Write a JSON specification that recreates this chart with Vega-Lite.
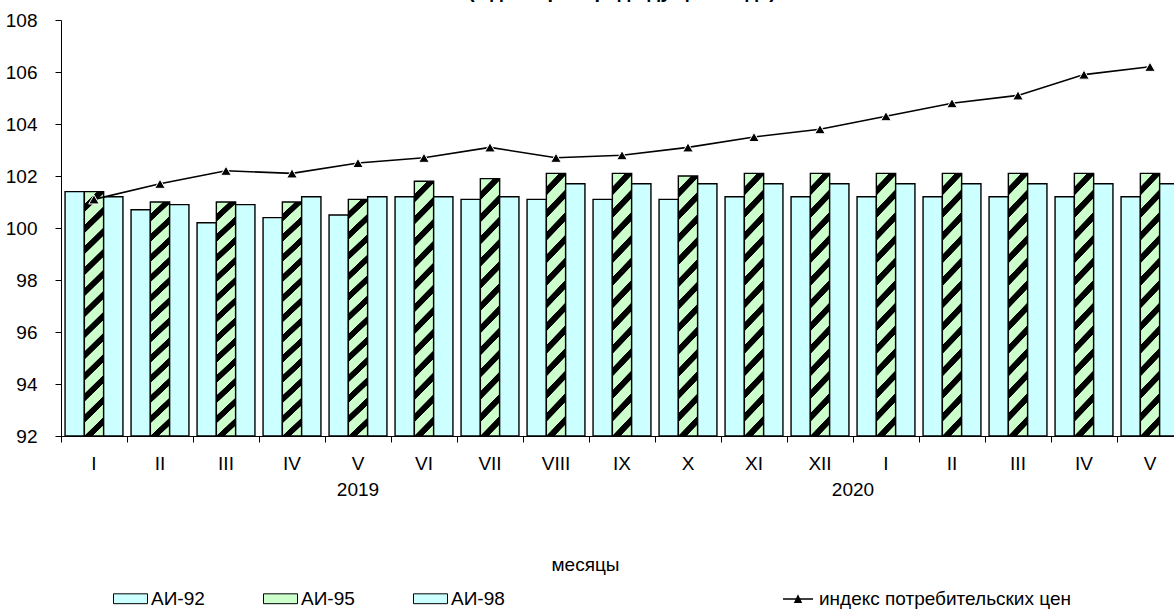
{
  "$schema": "https://vega.github.io/schema/vega-lite/v6.json",
  "autosize": {"type": "none"},
  "padding": {"left": 61, "top": 20, "right": -9, "bottom": 176},
  "width": 1122,
  "height": 416,
  "background": "white",
  "config": {
    "view": {"stroke": null},
    "font": "Liberation Sans",
    "axis": {"labelFont": "Liberation Sans", "titleFont": "Liberation Sans", "labelColor": "black", "titleColor": "black", "domainColor": "black", "tickColor": "black", "grid": false},
    "legend": {"labelFont": "Liberation Sans", "labelColor": "black", "labelFontSize": 19, "labelLimit": 0}
  },
  "title": {"text": "(к декабрю предыдущего года)", "font": "Liberation Sans", "fontSize": 20, "fontWeight": "bold", "color": "black", "offset": 9, "anchor": "middle"},
  "datasets": {
    "prices": [
      {"m": "I-2019", "fuel": "АИ-92", "v": 101.4}, {"m": "I-2019", "fuel": "АИ-95", "v": 101.4}, {"m": "I-2019", "fuel": "АИ-98", "v": 101.2},
      {"m": "II-2019", "fuel": "АИ-92", "v": 100.7}, {"m": "II-2019", "fuel": "АИ-95", "v": 101.0}, {"m": "II-2019", "fuel": "АИ-98", "v": 100.9},
      {"m": "III-2019", "fuel": "АИ-92", "v": 100.2}, {"m": "III-2019", "fuel": "АИ-95", "v": 101.0}, {"m": "III-2019", "fuel": "АИ-98", "v": 100.9},
      {"m": "IV-2019", "fuel": "АИ-92", "v": 100.4}, {"m": "IV-2019", "fuel": "АИ-95", "v": 101.0}, {"m": "IV-2019", "fuel": "АИ-98", "v": 101.2},
      {"m": "V-2019", "fuel": "АИ-92", "v": 100.5}, {"m": "V-2019", "fuel": "АИ-95", "v": 101.1}, {"m": "V-2019", "fuel": "АИ-98", "v": 101.2},
      {"m": "VI-2019", "fuel": "АИ-92", "v": 101.2}, {"m": "VI-2019", "fuel": "АИ-95", "v": 101.8}, {"m": "VI-2019", "fuel": "АИ-98", "v": 101.2},
      {"m": "VII-2019", "fuel": "АИ-92", "v": 101.1}, {"m": "VII-2019", "fuel": "АИ-95", "v": 101.9}, {"m": "VII-2019", "fuel": "АИ-98", "v": 101.2},
      {"m": "VIII-2019", "fuel": "АИ-92", "v": 101.1}, {"m": "VIII-2019", "fuel": "АИ-95", "v": 102.1}, {"m": "VIII-2019", "fuel": "АИ-98", "v": 101.7},
      {"m": "IX-2019", "fuel": "АИ-92", "v": 101.1}, {"m": "IX-2019", "fuel": "АИ-95", "v": 102.1}, {"m": "IX-2019", "fuel": "АИ-98", "v": 101.7},
      {"m": "X-2019", "fuel": "АИ-92", "v": 101.1}, {"m": "X-2019", "fuel": "АИ-95", "v": 102.0}, {"m": "X-2019", "fuel": "АИ-98", "v": 101.7},
      {"m": "XI-2019", "fuel": "АИ-92", "v": 101.2}, {"m": "XI-2019", "fuel": "АИ-95", "v": 102.1}, {"m": "XI-2019", "fuel": "АИ-98", "v": 101.7},
      {"m": "XII-2019", "fuel": "АИ-92", "v": 101.2}, {"m": "XII-2019", "fuel": "АИ-95", "v": 102.1}, {"m": "XII-2019", "fuel": "АИ-98", "v": 101.7},
      {"m": "I-2020", "fuel": "АИ-92", "v": 101.2}, {"m": "I-2020", "fuel": "АИ-95", "v": 102.1}, {"m": "I-2020", "fuel": "АИ-98", "v": 101.7},
      {"m": "II-2020", "fuel": "АИ-92", "v": 101.2}, {"m": "II-2020", "fuel": "АИ-95", "v": 102.1}, {"m": "II-2020", "fuel": "АИ-98", "v": 101.7},
      {"m": "III-2020", "fuel": "АИ-92", "v": 101.2}, {"m": "III-2020", "fuel": "АИ-95", "v": 102.1}, {"m": "III-2020", "fuel": "АИ-98", "v": 101.7},
      {"m": "IV-2020", "fuel": "АИ-92", "v": 101.2}, {"m": "IV-2020", "fuel": "АИ-95", "v": 102.1}, {"m": "IV-2020", "fuel": "АИ-98", "v": 101.7},
      {"m": "V-2020", "fuel": "АИ-92", "v": 101.2}, {"m": "V-2020", "fuel": "АИ-95", "v": 102.1}, {"m": "V-2020", "fuel": "АИ-98", "v": 101.7}
    ],
    "cpi": [
      {"m": "I-2019", "v": 101.1}, {"m": "II-2019", "v": 101.7}, {"m": "III-2019", "v": 102.2}, {"m": "IV-2019", "v": 102.1},
      {"m": "V-2019", "v": 102.5}, {"m": "VI-2019", "v": 102.7}, {"m": "VII-2019", "v": 103.1}, {"m": "VIII-2019", "v": 102.7},
      {"m": "IX-2019", "v": 102.8}, {"m": "X-2019", "v": 103.1}, {"m": "XI-2019", "v": 103.5}, {"m": "XII-2019", "v": 103.8},
      {"m": "I-2020", "v": 104.3}, {"m": "II-2020", "v": 104.8}, {"m": "III-2020", "v": 105.1}, {"m": "IV-2020", "v": 105.9},
      {"m": "V-2020", "v": 106.2}
    ],
    "year2019": [{"m": "V-2019", "year": "2019"}],
    "year2020": [{"m": "I-2020", "year": "2020"}]
  },
  "layer": [
    {
      "data": {"name": "prices"},
      "mark": {"type": "bar", "stroke": "black", "strokeWidth": 1.4},
      "encoding": {
        "x": {
          "field": "m", "type": "nominal",
          "scale": {"domain": ["I-2019","II-2019","III-2019","IV-2019","V-2019","VI-2019","VII-2019","VIII-2019","IX-2019","X-2019","XI-2019","XII-2019","I-2020","II-2020","III-2020","IV-2020","V-2020"], "paddingInner": 0, "paddingOuter": 0},
          "axis": {"title": "месяцы", "labelExpr": "split(datum.label, '-')[0]", "labelAngle": 0, "bandPosition": 0, "tickSize": 6, "labelPadding": 12, "labelFontSize": 19, "titleFontSize": 19, "titleFontWeight": "normal", "titlePadding": 82, "titleX": 524}
        },
        "xOffset": {"field": "fuel", "type": "nominal", "scale": {"domain": ["АИ-92","АИ-95","АИ-98"], "paddingInner": 0, "paddingOuter": 0.21}},
        "y": {
          "field": "v", "type": "quantitative",
          "scale": {"domain": [92, 108], "nice": false, "zero": false},
          "axis": {"title": null, "values": [92,94,96,98,100,102,104,106,108], "tickSize": 6, "labelPadding": 18, "labelFontSize": 19}
        },
        "y2": {"datum": 92},
        "fill": {
          "condition": {"test": "datum.fuel === 'АИ-95'", "value": {"gradient": "linear", "x1": 0, "y1": 0, "x2": 0.0827, "y2": 1.0708, "stops": [
            {"offset": 0, "color": "#CCFFCC"}, {"offset": 0.046, "color": "#CCFFCC"}, {"offset": 0.049, "color": "#000000"}, {"offset": 0.077, "color": "#000000"},
            {"offset": 0.08, "color": "#CCFFCC"}, {"offset": 0.126, "color": "#CCFFCC"}, {"offset": 0.129, "color": "#000000"}, {"offset": 0.157, "color": "#000000"},
            {"offset": 0.16, "color": "#CCFFCC"}, {"offset": 0.206, "color": "#CCFFCC"}, {"offset": 0.209, "color": "#000000"}, {"offset": 0.237, "color": "#000000"},
            {"offset": 0.24, "color": "#CCFFCC"}, {"offset": 0.286, "color": "#CCFFCC"}, {"offset": 0.289, "color": "#000000"}, {"offset": 0.317, "color": "#000000"},
            {"offset": 0.32, "color": "#CCFFCC"}, {"offset": 0.366, "color": "#CCFFCC"}, {"offset": 0.369, "color": "#000000"}, {"offset": 0.397, "color": "#000000"},
            {"offset": 0.40, "color": "#CCFFCC"}, {"offset": 0.446, "color": "#CCFFCC"}, {"offset": 0.449, "color": "#000000"}, {"offset": 0.477, "color": "#000000"},
            {"offset": 0.48, "color": "#CCFFCC"}, {"offset": 0.526, "color": "#CCFFCC"}, {"offset": 0.529, "color": "#000000"}, {"offset": 0.557, "color": "#000000"},
            {"offset": 0.56, "color": "#CCFFCC"}, {"offset": 0.606, "color": "#CCFFCC"}, {"offset": 0.609, "color": "#000000"}, {"offset": 0.637, "color": "#000000"},
            {"offset": 0.64, "color": "#CCFFCC"}, {"offset": 0.686, "color": "#CCFFCC"}, {"offset": 0.689, "color": "#000000"}, {"offset": 0.717, "color": "#000000"},
            {"offset": 0.72, "color": "#CCFFCC"}, {"offset": 0.766, "color": "#CCFFCC"}, {"offset": 0.769, "color": "#000000"}, {"offset": 0.797, "color": "#000000"},
            {"offset": 0.80, "color": "#CCFFCC"}, {"offset": 0.846, "color": "#CCFFCC"}, {"offset": 0.849, "color": "#000000"}, {"offset": 0.877, "color": "#000000"},
            {"offset": 0.88, "color": "#CCFFCC"}, {"offset": 0.926, "color": "#CCFFCC"}, {"offset": 0.929, "color": "#000000"}, {"offset": 0.957, "color": "#000000"},
            {"offset": 0.96, "color": "#CCFFCC"}, {"offset": 1, "color": "#CCFFCC"}
          ]}},
          "field": "fuel", "type": "nominal",
          "scale": {"domain": ["АИ-92","АИ-95","АИ-98"], "range": ["#CCFFFF", "#CCFFCC", "#CCFFFF"]},
          "legend": {
            "title": null, "orient": "none", "legendX": 52, "legendY": 561, "direction": "horizontal", "columnPadding": 56,
            "symbolType": "M-1,-0.29H1V0.29H-1Z", "symbolSize": 1156, "symbolStrokeColor": "black", "symbolStrokeWidth": 1,
            "labelFontSize": 19, "labelOffset": 3
          }
        }
      }
    },
    {
      "data": {"name": "cpi"},
      "mark": {"type": "line", "strokeWidth": 1.6},
      "encoding": {
        "x": {"field": "m", "type": "nominal", "scale": {"domain": ["I-2019","II-2019","III-2019","IV-2019","V-2019","VI-2019","VII-2019","VIII-2019","IX-2019","X-2019","XI-2019","XII-2019","I-2020","II-2020","III-2020","IV-2020","V-2020"]}},
        "y": {"field": "v", "type": "quantitative", "title": null},
        "stroke": {
          "datum": "индекс потребительских цен", "type": "nominal",
          "scale": {"range": ["black"]},
          "legend": {
            "title": null, "orient": "none", "legendX": 721, "legendY": 563,
            "symbolType": "M-1,0H1M-0.2,0.22L0,-0.2L0.2,0.22Z", "symbolSize": 900, "symbolStrokeWidth": 1.5, "symbolFillColor": "black",
            "labelFontSize": 19, "labelOffset": 5, "labelLimit": 0
          }
        }
      }
    },
    {
      "data": {"name": "cpi"},
      "mark": {"type": "point", "shape": "triangle-up", "filled": true, "fill": "black", "stroke": "white", "strokeWidth": 1, "size": 110, "opacity": 1},
      "encoding": {
        "x": {"field": "m", "type": "nominal"},
        "y": {"field": "v", "type": "quantitative", "title": null}
      }
    },
    {
      "data": {"name": "year2019"},
      "mark": {"type": "text", "fontSize": 19, "font": "Liberation Sans", "color": "black", "baseline": "middle", "dy": 54},
      "encoding": {
        "x": {"field": "m", "type": "nominal", "bandPosition": 0.5},
        "y": {"datum": 92, "type": "quantitative", "title": null},
        "text": {"field": "year"}
      }
    },
    {
      "data": {"name": "year2020"},
      "mark": {"type": "text", "fontSize": 19, "font": "Liberation Sans", "color": "black", "baseline": "middle", "dy": 54},
      "encoding": {
        "x": {"field": "m", "type": "nominal", "bandPosition": 0},
        "y": {"datum": 92, "type": "quantitative", "title": null},
        "text": {"field": "year"}
      }
    }
  ]
}
